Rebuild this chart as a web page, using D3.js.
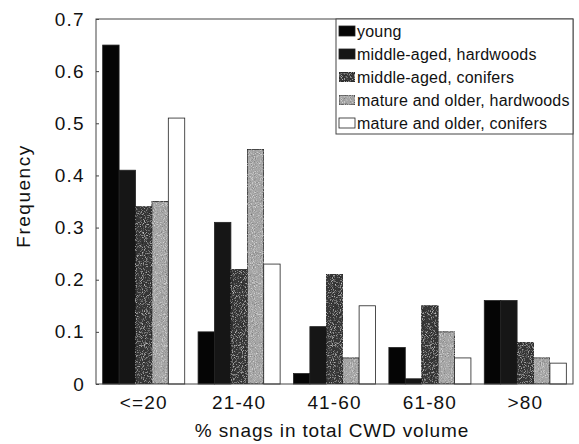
<!DOCTYPE html>
<html>
<head>
<meta charset="utf-8">
<script src="https://cdn.jsdelivr.net/npm/d3@7"></script>
<style>
    body { margin: 0; background: #fff; }
    text { font-family: "Liberation Sans", Arial, sans-serif; fill: #111; }
</style>
</head>
<body>
<svg id="chart"></svg>
<script>
// values
const categories = ['<=20', '21-40', '41-60', '61-80', '>80'];
const seriesNames = ['young', 'middle-aged, hardwoods', 'middle-aged, conifers',
    'mature and older, hardwoods', 'mature and older, conifers'];
const young = [0.65, 0.10, 0.02, 0.07, 0.16];
const middleHardwoods = [0.41, 0.31, 0.11, 0.01, 0.16];
const middleConifers = [0.34, 0.22, 0.21, 0.15, 0.08];
const matureHardwoods = [0.35, 0.45, 0.05, 0.10, 0.05];
const matureConifers = [0.51, 0.23, 0.15, 0.05, 0.04];
const yTicks = [0, 0.1, 0.2, 0.3, 0.4, 0.5, 0.6, 0.7];
const yTickLabels = ['0', '0.1', '0.2', '0.3', '0.4', '0.5', '0.6', '0.7'];

const seriesValues = [young, middleHardwoods, middleConifers, matureHardwoods, matureConifers];
const fills = ['#050505', '#161616', '#393939', '#a6a6a6', '#ffffff'];
const grain = [null, null, 'url(#grain)', 'url(#grain)', null];

const width = 579;
const height = 444;
const margin = {top: 19, right: 6, bottom: 60, left: 96};

const chart = d3.select('#chart')
    .attr('width', width)
    .attr('height', height);

// speckled print texture: faint light and dark specks over the fill
const filter = chart.append('defs')
    .append('filter')
    .attr('id', 'grain')
    .attr('x', 0).attr('y', 0).attr('width', 1).attr('height', 1);
filter.append('feTurbulence')
    .attr('type', 'fractalNoise')
    .attr('baseFrequency', 1.1)
    .attr('numOctaves', 2)
    .attr('seed', 3)
    .attr('result', 'noise');
filter.append('feColorMatrix')
    .attr('in', 'noise')
    .attr('type', 'matrix')
    .attr('values', '0 0 0 0 1  0 0 0 0 1  0 0 0 0 1  1.6 0 0 0 -0.85')
    .attr('result', 'light');
filter.append('feColorMatrix')
    .attr('in', 'noise')
    .attr('type', 'matrix')
    .attr('values', '0 0 0 0 0  0 0 0 0 0  0 0 0 0 0  -1.6 0 0 0 0.72')
    .attr('result', 'dark');
const merge = filter.append('feMerge').attr('result', 'speck');
merge.append('feMergeNode').attr('in', 'light');
merge.append('feMergeNode').attr('in', 'dark');
filter.append('feComposite')
    .attr('in', 'speck')
    .attr('in2', 'SourceGraphic')
    .attr('operator', 'in')
    .attr('result', 'speckIn');
const merge2 = filter.append('feMerge');
merge2.append('feMergeNode').attr('in', 'SourceGraphic');
merge2.append('feMergeNode').attr('in', 'speckIn');

const x = d3.scaleBand()
    .domain(categories)
    .range([margin.left, width - margin.right])
    .paddingInner(0.14)
    .paddingOuter(0.07);

const xInner = d3.scaleBand()
    .domain(d3.range(seriesNames.length))
    .range([0, x.bandwidth()]);

const y = d3.scaleLinear()
    .domain([0, 0.7])
    .range([height - margin.bottom, margin.top]);

// bars
const groups = chart.append('g')
    .selectAll('g')
    .data(categories)
    .enter()
    .append('g')
    .attr('transform', function(d) {
        return 'translate(' + x(d) + ',0)';
    });

groups.selectAll('rect')
    .data(function(d, i) {
        return seriesValues.map(function(values, s) {
            return {series: s, value: values[i]};
        });
    })
    .enter()
    .append('rect')
    .attr('x', function(d) { return xInner(d.series); })
    .attr('y', function(d) { return y(d.value); })
    .attr('width', xInner.bandwidth())
    .attr('height', function(d) { return y(0) - y(d.value); })
    .attr('fill', function(d) { return fills[d.series]; })
    .attr('filter', function(d) { return grain[d.series]; })
    .attr('stroke', '#222')
    .attr('stroke-width', 0.8);

// frame
chart.append('rect')
    .attr('x', margin.left)
    .attr('y', margin.top)
    .attr('width', width - margin.left - margin.right)
    .attr('height', height - margin.top - margin.bottom)
    .attr('fill', 'none')
    .attr('stroke', '#444')
    .attr('stroke-width', 1);

// y axis
const yAxis = chart.append('g')
    .attr('transform', 'translate(' + margin.left + ',0)')
    .call(d3.axisLeft(y)
        .tickValues(yTicks)
        .tickFormat(function(d, i) { return yTickLabels[i]; })
        .tickSize(-3)
        .tickPadding(11));

yAxis.select('.domain').remove();
yAxis.selectAll('line').attr('stroke', '#444');
yAxis.selectAll('text')
    .attr('font-size', 19)
    .attr('letter-spacing', 1.3)
    .attr('font-family', '"Liberation Sans", Arial, sans-serif')
    .attr('fill', '#111');

// x axis
const xAxis = chart.append('g')
    .attr('transform', 'translate(0,' + (height - margin.bottom) + ')')
    .call(d3.axisBottom(x).tickSize(0).tickPadding(12));

xAxis.select('.domain').remove();
xAxis.selectAll('text')
    .attr('font-size', 19)
    .attr('letter-spacing', 1.1)
    .attr('font-family', '"Liberation Sans", Arial, sans-serif')
    .attr('fill', '#111');

// axis titles
chart.append('text')
    .attr('x', 332)
    .attr('y', 437)
    .attr('text-anchor', 'middle')
    .attr('font-size', 19)
    .attr('letter-spacing', 0.85)
    .text('% snags in total CWD volume');

chart.append('text')
    .attr('transform', 'translate(30,196) rotate(-90)')
    .attr('text-anchor', 'middle')
    .attr('font-size', 19)
    .attr('letter-spacing', 1.5)
    .text('Frequency');

// legend
const legendX = 336;
const legendY = margin.top;
const legendW = width - margin.right - legendX;
const rowHeight = 23;

chart.append('rect')
    .attr('x', legendX)
    .attr('y', legendY)
    .attr('width', legendW)
    .attr('height', rowHeight * seriesNames.length)
    .attr('fill', '#fff')
    .attr('stroke', '#444');

const legend = chart.append('g')
    .selectAll('g')
    .data(seriesNames)
    .enter()
    .append('g')
    .attr('transform', function(d, i) {
        return 'translate(' + (legendX + 3) + ',' + (legendY + 12 + i * rowHeight) + ')';
    });

legend.append('rect')
    .attr('x', 0)
    .attr('y', -5)
    .attr('width', 16)
    .attr('height', 10)
    .attr('fill', function(d, i) { return fills[i]; })
    .attr('filter', function(d, i) { return grain[i]; })
    .attr('stroke', '#222')
    .attr('stroke-width', 0.8);

legend.append('text')
    .attr('x', 18)
    .attr('y', 0)
    .attr('dy', '.35em')
    .attr('font-size', 16)
    .attr('letter-spacing', 0.2)
    .text(function(d) { return d; });
</script>
</body>
</html>
